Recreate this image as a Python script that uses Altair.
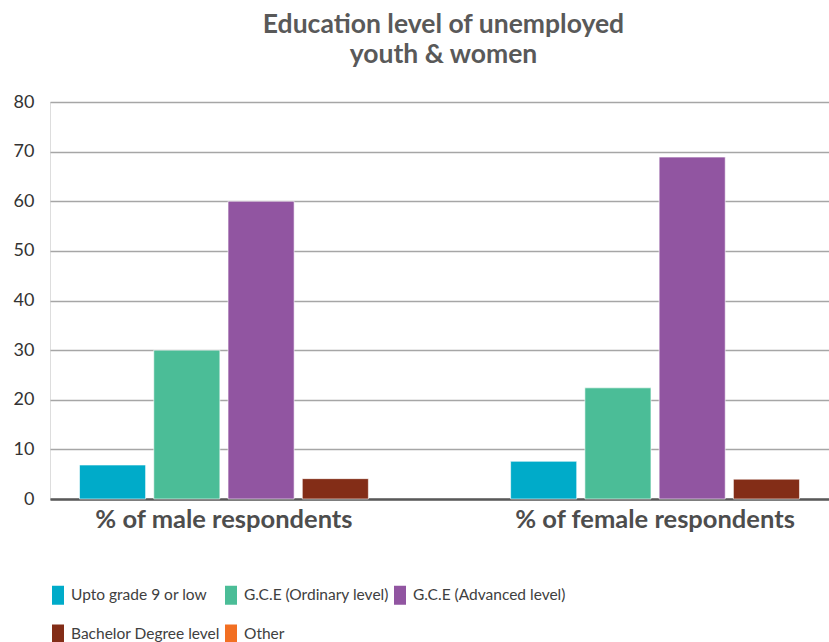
import altair as alt
import pandas as pd

groups = ["% of male respondents", "% of female respondents"]
categories = ["Upto grade 9 or low", "G.C.E (Ordinary level)", "G.C.E (Advanced level)",
              "Bachelor Degree level", "Other"]
male_values = [6.85, 30, 60, 4.1, 0]
female_values = [7.6, 22.4, 68.9, 4.0, 0]
colors = ["#00ABC9", "#4BBD97", "#9155A1", "#832D17", "#F26F22"]
y_ticks = [0, 10, 20, 30, 40, 50, 60, 70, 80]

rows = []
for g, vals in zip(groups, [male_values, female_values]):
    for c, v in zip(categories, vals):
        rows.append({"group": g, "category": c, "value": v})
df = pd.DataFrame(rows)

FONT = "Lato"
drawn = categories[:4]

chart = alt.Chart(df).transform_filter(
    "datum.category != 'Other'"
).mark_bar(stroke="white", strokeWidth=0.6).encode(
    x=alt.X("group:N", sort=groups,
            scale=alt.Scale(paddingInner=0.311, paddingOuter=0.059),
            axis=alt.Axis(title=None, labelAngle=0, ticks=False, labelFont=FONT,
                          labelFontSize=25.5, labelFontWeight="bold", labelColor="#4D4D4D",
                          labelLimit=0, labelPadding=8, domainColor="#595959", domainWidth=2.5)),
    xOffset=alt.XOffset("category:N", sort=drawn,
                        scale=alt.Scale(domain=drawn, paddingInner=0.11, paddingOuter=0.055)),
    y=alt.Y("value:Q", scale=alt.Scale(domain=[0, 80], nice=False),
            axis=alt.Axis(title=None, values=y_ticks, ticks=False, tickSize=0, domain=False,
                          labelFont=FONT, labelFontSize=18, labelColor="#333333",
                          labelPadding=16, gridColor="#A6A6A6", gridWidth=1.5)),
    color=alt.Color("category:N",
                    scale=alt.Scale(domain=categories, range=colors),
                    legend=alt.Legend(title=None, orient="none", legendX=-2, legendY=483,
                                      columns=3, direction="horizontal",
                                      symbolType="M-0.6,-0.95H0.6V0.95H-0.6Z",
                                      symbolSize=400, symbolStrokeWidth=0, symbolOpacity=1,
                                      labelFont=FONT, labelFontSize=15.5, labelColor="#404040",
                                      labelOffset=3, columnPadding=1, rowPadding=19,
                                      labelLimit=400)),
).properties(
    width=779, height=397,
    autosize=alt.AutoSizeParams(type="none"),
    padding={"left": 50, "top": 102, "right": 0, "bottom": 143},
    title=alt.TitleParams(["Education level of unemployed", "youth & women"],
                          font=FONT, fontSize=26.5, fontWeight="bold", color="#595959",
                          anchor="middle", lineHeight=30, offset=25, dx=4),
).configure_view(stroke=None).configure(background="white")

chart.save("out.html", embed_options={"renderer": "svg", "actions": False})
